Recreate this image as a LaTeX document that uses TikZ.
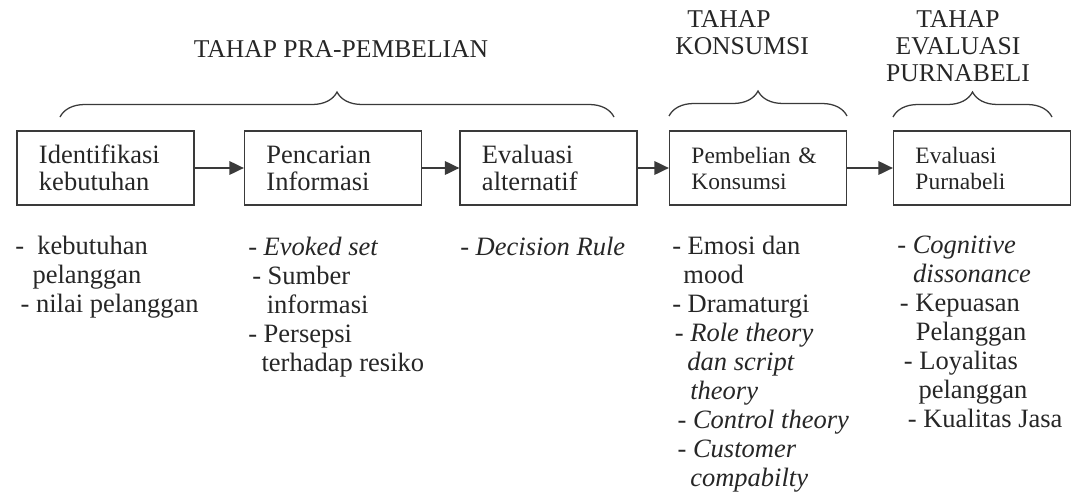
\documentclass[tikz,border=0pt]{standalone}
\usepackage{fontspec}
\setmainfont{Liberation Serif}
\usetikzlibrary{arrows.meta,decorations.pathreplacing}

\definecolor{linegray}{HTML}{3A3A3A}
\definecolor{textgray}{HTML}{262626}

\tikzset{
  phase/.style={draw=linegray, line width=0.9pt, minimum width=4.425cm, minimum height=1.85cm,
    text width=3.325cm, inner xsep=0.55cm, inner ysep=0pt, align=left, text=textgray,
    font=\fontsize{18.85}{19.2}\selectfont},
  phasesmall/.style={phase, font=\fontsize{16.7}{18.5}\selectfont},
  flow/.style={draw=linegray, line width=1pt, -{Triangle[length=0.36cm,width=0.34cm]}},
  klammer/.style={draw=linegray, line width=0.9pt, decorate,
    decoration={brace, amplitude=0.625cm}},
  kopf/.style={text=textgray, inner sep=0pt, font=\fontsize{18.2}{19.2}\selectfont},
  liste/.style={text=textgray, inner sep=0pt, align=left, anchor=north west,
    font=\fontsize{18.85}{20.6}\selectfont}
}

\begin{document}
\begin{tikzpicture}[x=0.025cm, y=-0.025cm]
  \useasboundingbox (0,0) rectangle (1076,493);

  % Ueberschriften der Phasen
  \node[kopf, anchor=base] (kopfpra) at (341,57) {TAHAP PRA-PEMBELIAN};
  \node[kopf, anchor=north west, align=left] (kopfkons) at (675,10) {\hspace*{0.47em}TAHAP\\KONSUMSI};
  \node[kopf, anchor=north, align=center] (kopfeval) at (958,10) {TAHAP\\EVALUASI\\PURNABELI};

  % Klammern
  \draw[klammer] (60,117) -- (614,117);
  \draw[klammer] (669,116) -- (847,116);
  \draw[klammer] (893,117) -- (1052,117);

  % Kaesten
  \node[phase] (ident) at (105.5,168) {Identifikasi\\kebutuhan};
  \node[phase] (cari) at (333,168) {Pencarian\\Informasi};
  \node[phase] (alt) at (548.5,168) {Evaluasi\\alternatif};
  \node[phasesmall] (beli) at (758,168) {Pembelian \&\\Konsumsi};
  \node[phasesmall] (purna) at (982,168) {Evaluasi\\Purnabeli};

  % Pfeile
  \draw[flow] (ident) -- (cari);
  \draw[flow] (cari) -- (alt);
  \draw[flow] (alt) -- (beli);
  \draw[flow] (beli) -- (purna);

  % Listen unter den Kaesten
  \node[liste] (listident) at (15,236) {-\hspace{0.5em}kebutuhan\\
    \hspace*{0.65em}pelanggan\\
    \hspace*{0.2em}- nilai pelanggan};
  \node[liste] (listcari) at (248,237) {- \textit{Evoked set}\\
    \hspace*{0.15em}- Sumber\\
    \hspace*{0.7em}informasi\\
    - Persepsi\\
    \hspace*{0.5em}terhadap resiko};
  \node[liste] (listalt) at (460,237) {- \textit{Decision Rule}};
  \node[liste] (listbeli) at (672,236) {- Emosi dan\\
    \hspace*{0.42em}mood\\
    - Dramaturgi\\
    \hspace*{0.1em}- \textit{Role theory}\\
    \hspace*{0.57em}\textit{dan script}\\
    \hspace*{0.68em}\textit{theory}\\
    \hspace*{0.2em}- \textit{Control theory}\\
    \hspace*{0.2em}- \textit{Customer}\\
    \hspace*{0.68em}\textit{compabilty}};
  \node[liste] (listpurna) at (897,236) {- \textit{Cognitive}\\
    \hspace*{0.6em}\textit{dissonance}\\
    \hspace*{0.1em}- Kepuasan\\
    \hspace*{0.7em}Pelanggan\\
    \hspace*{0.25em}- Loyalitas\\
    \hspace*{0.8em}pelanggan\\
    \hspace*{0.4em}- Kualitas Jasa};
\end{tikzpicture}
\end{document}
